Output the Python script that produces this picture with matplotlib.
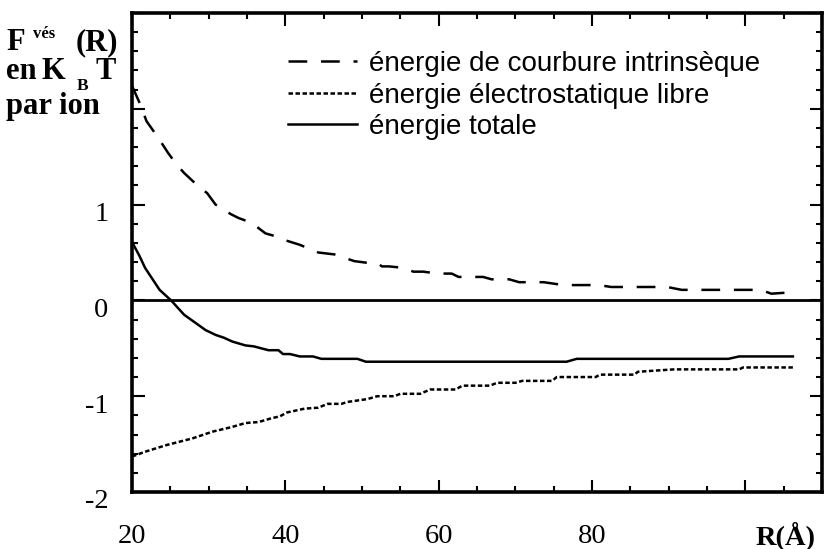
import matplotlib
matplotlib.use('Agg')
import matplotlib.pyplot as plt
import matplotlib.transforms as mtransforms
from matplotlib.ticker import FixedLocator, MultipleLocator
from matplotlib.lines import Line2D

# rayon R (Å) et énergie par ion (en kBT) pour chaque contribution
r_courbure = [20, 21, 21.9, 23.4, 24.7, 25.8, 26.8, 28.8, 29.8, 30.9, 32.9, 33.9,
              35.6, 37.4, 38.7, 39.9, 41.9, 44.3, 46.4, 49, 50.9, 52, 52.6, 53.5,
              55.4, 56.7, 58, 59.9, 61.7, 62.6, 64.6, 65.8, 66.9, 69.2, 70.5, 71.8,
              73.7, 75.4, 77, 80.9, 82.5, 85.1, 87.1, 89.8, 91.7, 94.3, 96.1, 98.8,
              102, 103.4, 105.2, 106.2]
f_courbure = [2.24, 2.06, 1.87, 1.70, 1.54, 1.42, 1.33, 1.18, 1.12, 1.00, 0.90, 0.86,
              0.81, 0.70, 0.67, 0.63, 0.58, 0.50, 0.48, 0.41, 0.39, 0.39, 0.355, 0.355,
              0.34, 0.30, 0.30, 0.28, 0.28, 0.245, 0.245, 0.245, 0.22, 0.22, 0.19, 0.19,
              0.19, 0.17, 0.16, 0.16, 0.14, 0.14, 0.14, 0.14, 0.11, 0.11, 0.11, 0.11,
              0.11, 0.07, 0.08, 0.08]

r_elec = [20, 21.7, 24.5, 27.9, 30.5, 33.1, 34.8, 36.5, 38.2, 39.3, 40.2, 42.5,
          44.3, 45.5, 47.3, 48.1, 50.7, 52, 54.2, 55, 57.6, 58.9, 62.2, 63.1,
          66.7, 67.6, 70, 70.9, 74.8, 75.4, 80.5, 81, 85.5, 86, 90.7, 99.2, 99.7, 106.2]
f_elec = [-1.63, -1.58, -1.51, -1.44, -1.37, -1.32, -1.28, -1.27, -1.23, -1.21, -1.17, -1.13,
          -1.12, -1.08, -1.08, -1.06, -1.03, -1.00, -1.00, -0.975, -0.975, -0.93, -0.93, -0.89,
          -0.89, -0.86, -0.86, -0.84, -0.84, -0.80, -0.80, -0.775, -0.775, -0.745, -0.72, -0.72,
          -0.70, -0.70]

r_totale = [20, 21, 21.7, 23.6, 25.1, 26.8, 29.6, 30.9, 32, 33.1, 34.8, 35.9, 37.8,
            39.1, 39.7, 40.6, 41.9, 43.6, 44.7, 49.4, 50.5, 76.7, 78, 97.8, 99.2, 106.2]
f_totale = [0.61, 0.46, 0.34, 0.11, 0.0, -0.15, -0.31, -0.36, -0.39, -0.43, -0.47, -0.48, -0.52,
            -0.52, -0.56, -0.56, -0.585, -0.585, -0.61, -0.61, -0.64, -0.64, -0.61, -0.61, -0.585,
            -0.585]

noms = ["énergie de courbure intrinsèque",
        "énergie électrostatique libre",
        "énergie totale"]

xticks = [20, 40, 60, 80, 100]
xlabels = ["20", "40", "60", "80", ""]
yticks = [-2, -1, 0, 1, 2, 3]
ylabels = ["-2", "-1", "0", "1", "", ""]

serif = "Liberation Serif"
sans = "Liberation Sans"

W, H = 824, 549
fig = plt.figure(figsize=(W / 100, H / 100), dpi=100)
ax = fig.add_axes([132 / W, 1 - 492 / H, (822 - 132) / W, (492 - 13) / H])

lw = 1.8
tiret = (0, (7.5, 5.5))
pointille = (0, (1.8, 1.0))

ax.axhline(0, color="black", lw=2.0)
ax.plot(r_courbure, f_courbure, color="black", lw=lw, linestyle=tiret)
ax.plot(r_elec, f_elec, color="black", lw=lw, linestyle=pointille)
ax.plot(r_totale, f_totale, color="black", lw=lw, linestyle="-")

ax.set_xlim(20, 110)
ax.set_ylim(-2, 3)

# axes
for s in ax.spines.values():
    s.set_linewidth(2.6)
ax.xaxis.set_major_locator(FixedLocator(xticks))
ax.xaxis.set_minor_locator(MultipleLocator(5))
ax.yaxis.set_major_locator(FixedLocator(yticks))
ax.yaxis.set_minor_locator(MultipleLocator(0.2))
ax.set_xticklabels(xlabels, fontfamily=serif, fontsize=20.5)
ax.set_yticklabels(ylabels, fontfamily=serif, fontsize=20.5)
ax.tick_params(which="both", direction="in", top=True, right=True, width=1.5)
ax.tick_params(which="major", length=9)
ax.tick_params(which="minor", length=4.5)
ax.tick_params(axis="x", pad=23)
ax.tick_params(axis="y", pad=17)

decal = mtransforms.ScaledTranslation(0, -5 / 72, fig.dpi_scale_trans)
for lab in ax.get_yticklabels():
    lab.set_transform(lab.get_transform() + decal)

# légende
poignees = [Line2D([], [], color="black", lw=lw, linestyle=tiret),
            Line2D([], [], color="black", lw=lw, linestyle=pointille),
            Line2D([], [], color="black", lw=lw, linestyle="-")]
ax.legend(poignees, noms, loc="upper left", bbox_to_anchor=(288 / W, 1 - 51 / H),
          bbox_transform=fig.transFigure, frameon=False, borderpad=0, borderaxespad=0,
          handlelength=2.5, handletextpad=0.4, labelspacing=0.2,
          prop={"family": sans, "size": 20})

# titre de l'axe vertical
def px(x, y):
    return x / W, 1 - y / H

gras = dict(fontfamily=serif, fontweight="bold", va="baseline", ha="left")
fig.text(*px(6, 50), "F", fontsize=22, **gras)
fig.text(*px(33, 38), "vés", fontsize=12, **gras)
fig.text(*px(76, 50), "(R)", fontsize=22, **gras)
fig.text(*px(6, 79), "en", fontsize=22, **gras)
fig.text(*px(42, 79), "K", fontsize=22, **gras)
fig.text(*px(77, 90), "B", fontsize=12.5, **gras)
fig.text(*px(96, 79), "T", fontsize=22, **gras)
fig.text(*px(6, 114), "par ion", fontsize=22, **gras)

fig.text(*px(756, 544), "R(Å)", fontsize=20.5, **gras)

fig.savefig("out.png", dpi=100)
